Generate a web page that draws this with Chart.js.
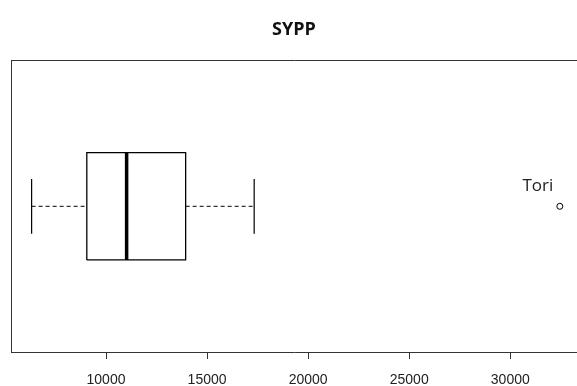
<!DOCTYPE html>
<html>
<head>
<meta charset="utf-8">
<script src="https://cdn.jsdelivr.net/npm/chart.js@4"></script>
<style>
  html, body { margin: 0; padding: 0; background: #fff; }
</style>
</head>
<body>
<canvas id="box-chart" width="577" height="386"></canvas>
<script>
// boxplot summary for SYPP
const categories = ['SYPP'];
const whiskerLow = [6320];
const lowerQuartile = [9050];
const median = [11020];
const upperQuartile = [13940];
const whiskerHigh = [17330];
const outliers = [32450];
const outlierLabels = ['Tori'];
const tickValues = [10000, 15000, 20000, 25000, 30000];

// box drawing sizes in y-axis units (axis runs -1..1)
const boxHalf = 0.368;
const capHalf = 0.188;

const i = 0;
const lineStyle = { showLine: true, pointRadius: 0, borderColor: '#000', backgroundColor: 'transparent', fill: false };

const outlierLabelPlugin = {
  id: 'outlierLabel',
  afterDatasetsDraw(chart) {
    const ctx = chart.ctx;
    const xs = chart.scales.x;
    const ys = chart.scales.y;
    ctx.save();
    ctx.font = '17px "Open Sans"';
    ctx.fillStyle = '#222';
    ctx.textAlign = 'center';
    ctx.textBaseline = 'bottom';
    outliers.forEach((v, k) => {
      ctx.fillText(outlierLabels[k], xs.getPixelForValue(v) - 22, ys.getPixelForValue(0) - 12);
    });
    ctx.restore();
  }
};

const ctx = document.getElementById('box-chart').getContext('2d');
new Chart(ctx, {
  type: 'scatter',
  data: {
    datasets: [
      { ...lineStyle, label: 'box', borderWidth: 1.3,
        data: [
          { x: lowerQuartile[i], y: -boxHalf }, { x: upperQuartile[i], y: -boxHalf },
          { x: upperQuartile[i], y: boxHalf }, { x: lowerQuartile[i], y: boxHalf },
          { x: lowerQuartile[i], y: -boxHalf }
        ] },
      { ...lineStyle, label: 'median', borderWidth: 3.5,
        data: [{ x: median[i], y: -boxHalf }, { x: median[i], y: boxHalf }] },
      { ...lineStyle, label: 'whisker low', borderWidth: 1, borderDash: [4, 3],
        data: [{ x: whiskerLow[i], y: 0 }, { x: lowerQuartile[i], y: 0 }] },
      { ...lineStyle, label: 'whisker high', borderWidth: 1, borderDash: [4, 3],
        data: [{ x: upperQuartile[i], y: 0 }, { x: whiskerHigh[i], y: 0 }] },
      { ...lineStyle, label: 'cap low', borderWidth: 1.2,
        data: [{ x: whiskerLow[i], y: -capHalf }, { x: whiskerLow[i], y: capHalf }] },
      { ...lineStyle, label: 'cap high', borderWidth: 1.2,
        data: [{ x: whiskerHigh[i], y: -capHalf }, { x: whiskerHigh[i], y: capHalf }] },
      { label: 'outliers', showLine: false, pointRadius: 3, pointStyle: 'circle',
        borderColor: '#000', backgroundColor: '#fff', borderWidth: 1,
        data: outliers.map(v => ({ x: v, y: 0 })) }
    ]
  },
  options: {
    responsive: false,
    animation: false,
    layout: { autoPadding: false, padding: { left: 11, right: 0, top: 0, bottom: 0 } },
    plugins: {
      legend: { display: false },
      tooltip: { enabled: false },
      title: {
        display: true,
        text: categories[i],
        fullSize: false,
        color: '#111',
        font: { family: 'Open Sans', size: 18, weight: 'bold' },
        padding: { top: 19, bottom: 20 }
      }
    },
    scales: {
      x: {
        type: 'linear',
        position: 'bottom',
        min: 5300,
        max: 33300,
        afterBuildTicks: scale => { scale.ticks = tickValues.map(v => ({ value: v })); },
        afterFit: scale => { scale.height = 34; },
        grid: { display: true, drawOnChartArea: false, drawTicks: true, tickLength: 7, color: '#333' },
        border: { display: true, color: '#333', width: 1 },
        ticks: {
          color: '#222',
          padding: 13,
          maxRotation: 0,
          font: { family: 'Liberation Sans', size: 14 },
          callback: v => String(v)
        }
      },
      x2: {
        type: 'linear',
        position: 'top',
        min: 5300,
        max: 33300,
        grid: { display: false, drawTicks: false },
        border: { display: true, color: '#333', width: 1 },
        ticks: { display: false }
      },
      y: {
        type: 'linear',
        min: -1,
        max: 1,
        grid: { display: false, drawTicks: false },
        border: { display: true, color: '#333', width: 1 },
        ticks: { display: false }
      }
    }
  },
  plugins: [outlierLabelPlugin]
});
</script>
</body>
</html>
